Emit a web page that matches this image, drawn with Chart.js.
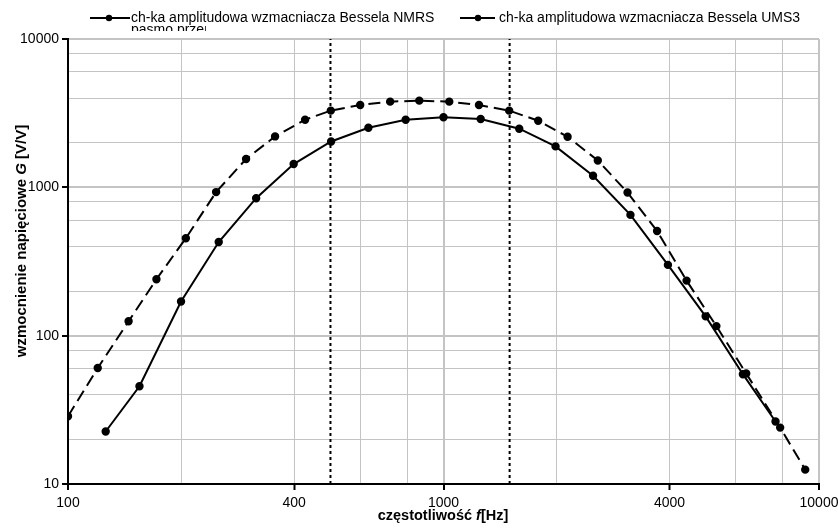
<!DOCTYPE html>
<html>
<head>
<meta charset="utf-8">
<script src="https://cdn.jsdelivr.net/npm/chart.js@4.4.0/dist/chart.umd.min.js"></script>
<style>
    html, body { margin: 0; padding: 0; background: #fff; }
    #wrap { width: 838px; height: 531px; }
</style>
</head>
<body>
<div id="wrap"><canvas id="gainChart" width="838" height="531"></canvas></div>
<script>
// dane
const freqNMRS = [126, 155, 200, 252, 317, 399, 502, 631, 793, 1000, 1256, 1591, 1988, 2502, 3147, 3960, 4990, 6270, 7660];
const gainNMRS = [22.6, 45.6, 170, 428, 845, 1435, 2039, 2522, 2857, 2970, 2890, 2484, 1888, 1196, 652, 300, 135, 55, 26.4];

const freqUMS3 = [100, 120, 145, 172, 206, 248, 298, 356, 428, 501, 600, 721, 862, 1036, 1243, 1496, 1787, 2140, 2576, 3091, 3705, 4440, 5330, 6400, 7880, 9190];
const gainUMS3 = [28.6, 60.5, 125, 240, 454, 929, 1552, 2204, 2857, 3289, 3591, 3782, 3841, 3782, 3591, 3289, 2813, 2193, 1517, 923, 508, 235, 116, 55.6, 24.0, 12.5];

// granice pasma przenoszenia
const bandEdges = [500, 1500];

const xGridTicks = [100, 200, 400, 600, 800, 1000, 2000, 4000, 6000, 8000, 10000];
const xLabelTicks = [100, 400, 1000, 4000, 10000];
const yGridTicks = [10, 20, 40, 60, 80, 100, 200, 400, 600, 800, 1000, 2000, 4000, 6000, 8000, 10000];
const yLabelTicks = [10, 100, 1000, 10000];

const legendLabels = ['ch-ka amplitudowa wzmacniacza Bessela NMRS', 'ch-ka amplitudowa wzmacniacza Bessela UMS3', 'pasmo przenoszenia'];

const FONT = '"Liberation Sans", Arial, sans-serif';
const DASH = [12, 6];

function toPoints(xs, ys) {
    return xs.map((x, i) => ({ x: x, y: ys[i] }));
}

function isDecade(v) {
    const l = Math.log10(v);
    return Math.abs(l - Math.round(l)) < 1e-9;
}

const bandDatasets = bandEdges.map(f => ({
    label: 'pasmo',
    data: [{ x: f, y: 10 }, { x: f, y: 10000 }],
    borderColor: '#000',
    borderWidth: 2,
    borderDash: [3, 3],
    pointRadius: 0,
    fill: false
}));

// tekst z fragmentami kursywy
function drawRich(ctx, parts, x, y, size) {
    const widths = parts.map(p => {
        ctx.font = (p.italic ? 'italic ' : '') + 'bold ' + size + 'px ' + FONT;
        return ctx.measureText(p.text).width;
    });
    let cx = x - widths.reduce((a, b) => a + b, 0) / 2;
    parts.forEach((p, i) => {
        ctx.font = (p.italic ? 'italic ' : '') + 'bold ' + size + 'px ' + FONT;
        ctx.fillText(p.text, cx, y);
        cx += widths[i];
    });
}

// legenda i tytuly osi rysowane recznie
const decorPlugin = {
    id: 'decor',
    afterDraw(chart) {
        const ctx = chart.ctx;
        ctx.save();

        // legenda
        ctx.fillStyle = '#000';
        ctx.textBaseline = 'middle';
        const items = [
            { x0: 90, x1: 130, dash: [], text: legendLabels[0] },
            { x0: 460, x1: 498, dash: [15, 5], text: legendLabels[1] }
        ];
        items.forEach(it => {
            ctx.strokeStyle = '#000';
            ctx.lineWidth = 2;
            ctx.setLineDash(it.dash);
            ctx.beginPath();
            ctx.moveTo(it.x0, 18);
            ctx.lineTo(it.x1, 18);
            ctx.stroke();
            ctx.setLineDash([]);
            ctx.beginPath();
            ctx.arc((it.x0 + it.x1) / 2 - 1, 18, 3.2, 0, Math.PI * 2);
            ctx.fill();
            ctx.textAlign = 'left';
            ctx.font = '14px ' + FONT;
            ctx.fillText(it.text, it.x1 + 1, 18);
        });

        // ucieta trzecia pozycja legendy
        ctx.save();
        ctx.beginPath();
        ctx.rect(130, 0, 76, 31);
        ctx.clip();
        ctx.textBaseline = 'alphabetic';
        ctx.fillText(legendLabels[2], 131, 34);
        ctx.restore();

        // tytul osi X
        ctx.textAlign = 'left';
        ctx.textBaseline = 'alphabetic';
        drawRich(ctx, [
            { text: 'częstotliwość ' },
            { text: 'f', italic: true },
            { text: '[Hz]' }
        ], 443, 520, 14.5);

        // tytul osi Y
        ctx.save();
        ctx.translate(26, 241);
        ctx.rotate(-Math.PI / 2);
        drawRich(ctx, [
            { text: 'wzmocnienie napięciowe ' },
            { text: 'G', italic: true },
            { text: ' [V/V]' }
        ], 0, 0, 15);
        ctx.restore();

        ctx.restore();
    }
};

function gridWidth(ctx) {
    const v = ctx.tick ? ctx.tick.value : 0;
    return isDecade(v) ? 2 : 1;
}

new Chart(document.getElementById('gainChart'), {
    type: 'line',
    data: {
        datasets: [
            {
                label: legendLabels[0],
                data: toPoints(freqNMRS, gainNMRS),
                borderColor: '#000',
                backgroundColor: '#000',
                borderWidth: 2,
                pointRadius: 3.2,
                pointHoverRadius: 3.2,
                tension: 0,
                fill: false
            },
            {
                label: legendLabels[1],
                data: toPoints(freqUMS3, gainUMS3),
                borderColor: '#000',
                backgroundColor: '#000',
                borderWidth: 2,
                borderDash: DASH,
                pointRadius: 3.2,
                pointHoverRadius: 3.2,
                tension: 0,
                fill: false
            },
            ...bandDatasets
        ]
    },
    options: {
        responsive: false,
        animation: false,
        devicePixelRatio: 1,
        layout: {
            padding: { top: 39, right: 19, left: 0, bottom: 0 }
        },
        plugins: {
            legend: { display: false },
            tooltip: { enabled: false }
        },
        scales: {
            x: {
                type: 'logarithmic',
                min: 100,
                max: 10000,
                afterBuildTicks: function(scale) {
                    scale.ticks = xGridTicks.map(v => ({ value: v }));
                },
                afterFit: function(scale) {
                    scale.height = 47;
                    scale.paddingRight = 0;
                    scale.paddingLeft = 0;
                },
                ticks: {
                    autoSkip: false,
                    maxRotation: 0,
                    padding: 5,
                    color: '#000',
                    font: { family: FONT, size: 14 },
                    callback: function(value) {
                        return xLabelTicks.includes(value) ? String(value) : '';
                    }
                },
                grid: {
                    color: '#c4c4c4',
                    lineWidth: gridWidth,
                    tickLength: 6,
                    tickColor: ctx => xLabelTicks.includes(ctx.tick.value) ? '#000' : 'rgba(0,0,0,0)',
                    tickWidth: 2
                },
                border: { color: '#000', width: 2 }
            },
            y: {
                type: 'logarithmic',
                min: 10,
                max: 10000,
                afterBuildTicks: function(scale) {
                    scale.ticks = yGridTicks.map(v => ({ value: v }));
                },
                afterFit: function(scale) {
                    scale.width = 68;
                    scale.paddingTop = 0;
                    scale.paddingBottom = 0;
                },
                ticks: {
                    autoSkip: false,
                    padding: 3,
                    color: '#000',
                    font: { family: FONT, size: 14 },
                    callback: function(value) {
                        return yLabelTicks.includes(value) ? String(value) : '';
                    }
                },
                grid: {
                    color: '#c4c4c4',
                    lineWidth: gridWidth,
                    tickLength: 6,
                    tickColor: ctx => yLabelTicks.includes(ctx.tick.value) ? '#000' : 'rgba(0,0,0,0)',
                    tickWidth: 2
                },
                border: { color: '#000', width: 2 }
            }
        }
    },
    plugins: [decorPlugin]
});
</script>
</body>
</html>
